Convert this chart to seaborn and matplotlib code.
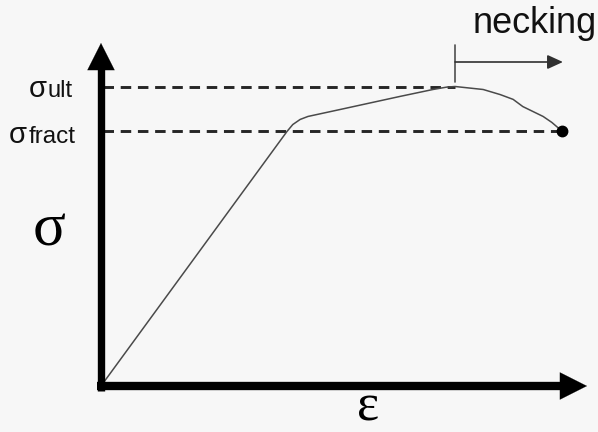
import numpy as np
import pandas as pd
import matplotlib
matplotlib.use("Agg")
import matplotlib.pyplot as plt
import seaborn as sns

# ---- data (arbitrary units) ----
strain = [0, 40.3, 41.6, 43.2, 44.9, 51.8, 64.9, 72.0, 75.0, 76.8,
          82.9, 86.6, 89.4, 91.5, 95.9, 97.8, 100.0]
stress = [0, 84.9, 87.3, 89.0, 90.0, 92.3, 96.7, 99.0, 99.8, 100.0,
          99.0, 97.3, 95.7, 93.3, 90.0, 88.0, 85.1]
sigma_ult = 100.0
sigma_fract = 85.1
necking_label = "necking"
ult_label = ("σ", "ult")
fract_label = ("σ", "fract")
y_axis_label = "σ"
x_axis_label = "ε"

sns.set_style("white")
plt.rcParams["font.family"] = ["Liberation Sans", "DejaVu Sans"]

df = pd.DataFrame({"strain": strain, "stress": stress})
i_peak = int(np.argmax(stress))
peak_strain = strain[i_peak]
frac_strain = strain[-1]

bg = "#f7f7f7"
fig = plt.figure(figsize=(5.98, 4.32), dpi=100, facecolor=bg)
ax = fig.add_axes([0, 0, 1, 1])
ax.set_facecolor(bg)

# scale: origin at pixel (101,386); 4.61 px per strain unit, 2.995 px per stress unit
kx, ky = 4.61, 2.995
ax.set_xlim(-101 / kx, (598 - 101) / kx)
ax.set_ylim((386 - 432) / ky, 386 / ky)
ax.axis("off")

# dashed reference lines
dash_kw = dict(color="#262626", lw=2.1, dashes=(3.6, 2.3), zorder=2)
ax.plot([0.5, peak_strain], [sigma_ult, sigma_ult], **dash_kw)
ax.plot([0.5, frac_strain], [sigma_fract, sigma_fract], **dash_kw)

# stress-strain curve
sns.lineplot(data=df, x="strain", y="stress", ax=ax, sort=False, estimator=None,
             color="#4a4a4a", lw=1.1, zorder=3)
ax.plot([frac_strain], [sigma_fract], "o", color="black", ms=7.5, zorder=4)

# axes with arrows
y_bot, y_tip = (386 - 391) / ky, (386 - 43) / ky
x_left, x_tip = (97 - 101) / kx, (587 - 101) / kx
head_len_y = 27 / ky
head_len_x = 27 / kx
ax.plot([0, 0], [y_bot, y_tip - head_len_y * 0.8], color="black", lw=5.3,
        solid_capstyle="butt", zorder=5)
ax.plot([x_left, x_tip - head_len_x * 0.8], [0, 0], color="black", lw=6.0,
        solid_capstyle="butt", zorder=5)
big_head = dict(arrowstyle="-|>,head_length=0.97,head_width=0.49", color="black",
                lw=0.1, mutation_scale=20, shrinkA=0, shrinkB=0)
ax.annotate("", xy=(0, y_tip), xytext=(0, y_tip - 2 * head_len_y),
            arrowprops=big_head, zorder=6)
ax.annotate("", xy=(x_tip, 0), xytext=(x_tip - 2 * head_len_x, 0),
            arrowprops=big_head, zorder=6)

# necking bracket
neck_y = (386 - 62) / ky
ax.plot([peak_strain, peak_strain], [(386 - 82) / ky, (386 - 45) / ky],
        color="#505050", lw=1.2)
ax.annotate("", xy=(frac_strain + 0.2, neck_y), xytext=(peak_strain, neck_y),
            arrowprops=dict(arrowstyle="-|>,head_length=0.94,head_width=0.43",
                            color="#303030", lw=1.2, mutation_scale=10,
                            shrinkA=0, shrinkB=0))
ax.annotate(necking_label, xy=(peak_strain, sigma_ult), xytext=(13, 38.5),
            textcoords="offset points", ha="left", va="baseline",
            fontsize=26, color="#111111")

# sigma labels
ax.annotate(ult_label[1], xy=(0, sigma_ult), xytext=(-20.2, -7.6),
            textcoords="offset points", ha="right", va="baseline",
            fontsize=17, color="#111111")
ax.annotate(ult_label[0], xy=(0, sigma_ult), xytext=(-38.9, -7.6),
            textcoords="offset points", ha="right", va="baseline",
            fontsize=21, color="#111111")
ax.annotate(fract_label[1], xy=(0, sigma_fract), xytext=(-18.0, -8.6),
            textcoords="offset points", ha="right", va="baseline",
            fontsize=17.5, color="#111111")
ax.annotate(fract_label[0], xy=(0, sigma_fract), xytext=(-53.3, -8.6),
            textcoords="offset points", ha="right", va="baseline",
            fontsize=21, color="#111111")

# axis symbols
ax.text(49 / 598, 1 - 246 / 432, y_axis_label, transform=ax.transAxes,
        ha="center", va="baseline", fontsize=44, family="Liberation Serif",
        color="black")
ax.text(368 / 598, 0.002, x_axis_label, transform=ax.transAxes,
        ha="center", va="bottom", fontsize=38, family="Liberation Serif",
        color="black")

fig.savefig("out.png", dpi=100, facecolor=bg)
